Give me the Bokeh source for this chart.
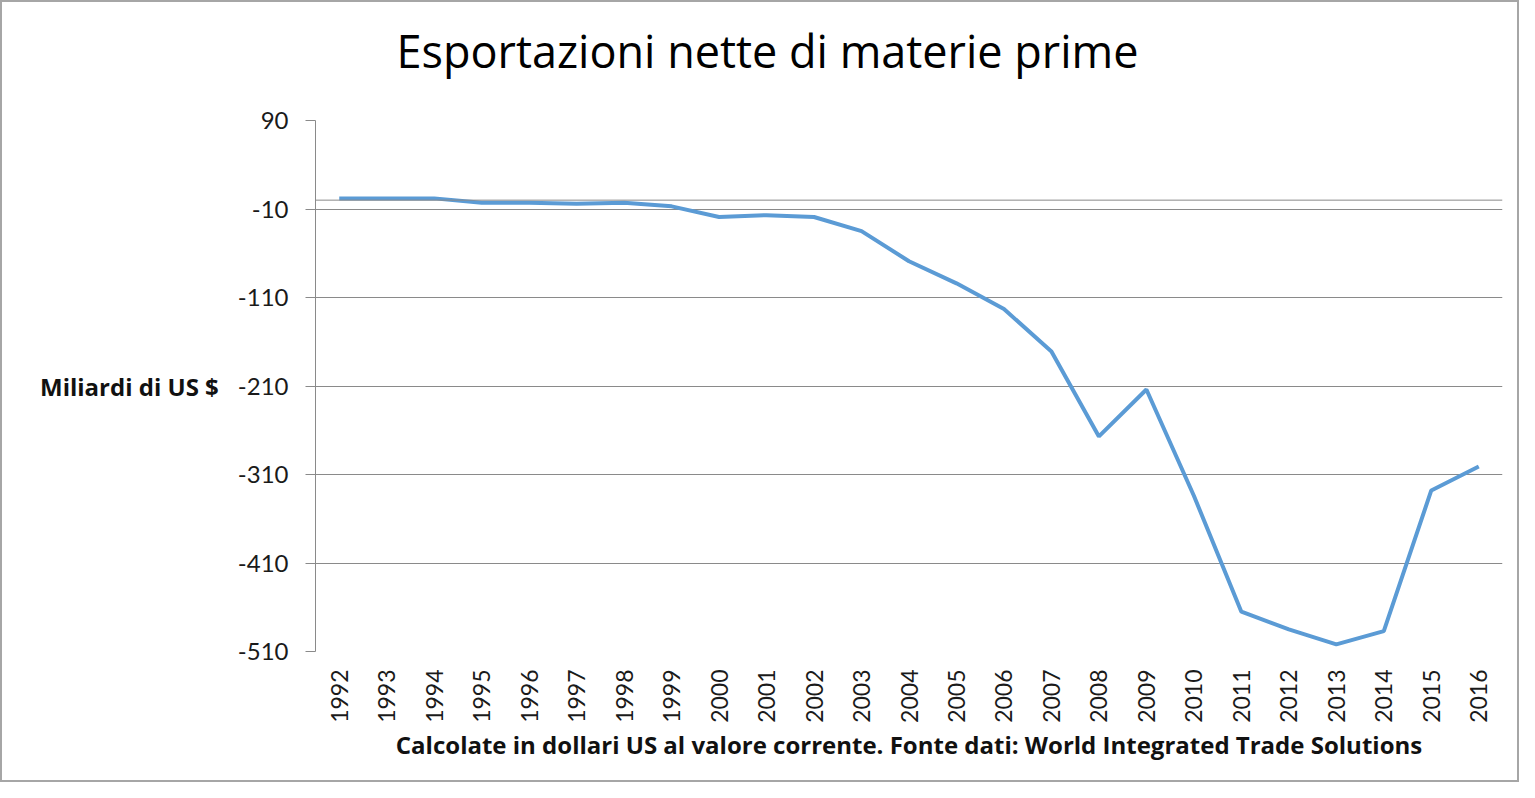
import math
from bokeh.plotting import figure
from bokeh.models import FactorRange, Range1d, FixedTicker, Span, Title, PrintfTickFormatter
from bokeh.embed import file_html
from bokeh.resources import INLINE

years = [str(y) for y in range(1992, 2017)]
values = [2, 2, 2, -3, -3, -4, -3, -7, -19, -17, -19, -35, -69, -94, -123,
          -171, -267, -214, -334, -465, -485, -502, -487, -328, -301]
y_ticks = [90, -10, -110, -210, -310, -410, -510]

title_text = "Esportazioni nette di materie prime"
y_title = "Miliardi di US $"
x_title = "Calcolate in dollari US al valore corrente. Fonte dati: World Integrated Trade Solutions"

FONT = "Lato"
BOLD_FONT = "Open Sans"
W, H = 1519, 782
LEFT, TOP, BOTTOM, RIGHT = 313, 118, 133, 19

p = figure(width=W, height=H, x_range=FactorRange(*years), y_range=Range1d(-510, 90),
           output_backend="svg", toolbar_location=None,
           min_border_left=LEFT, min_border_right=RIGHT, min_border_top=TOP, min_border_bottom=BOTTOM)
p.styles = {"border": "2px solid #a6a6a6"}
p.outline_line_color = None
p.background_fill_color = "white"
p.border_fill_color = "white"

p.xgrid.grid_line_color = None
p.ygrid.grid_line_color = "#8a8a8a"
p.ygrid.grid_line_width = 1

p.yaxis.ticker = FixedTicker(ticks=y_ticks)
p.yaxis.formatter = PrintfTickFormatter(format="%d")
p.yaxis.axis_line_color = "#8a8a8a"
p.yaxis.major_tick_line_color = "#8a8a8a"
p.yaxis.major_tick_out = 10
p.yaxis.major_tick_in = 0
p.yaxis.minor_tick_line_color = None
p.yaxis.major_label_standoff = 17
p.yaxis.major_label_text_font = FONT
p.yaxis.major_label_text_font_size = "24px"
p.yaxis.major_label_text_color = "#1a1a1a"
p.yaxis.axis_label = y_title
p.yaxis.axis_label_orientation = "horizontal"
p.yaxis.axis_label_standoff = 16
p.yaxis.axis_label_text_font = BOLD_FONT
p.yaxis.axis_label_text_font_style = "bold"
p.yaxis.axis_label_text_font_size = "24px"
p.yaxis.axis_label_text_color = "#111111"

p.xaxis.axis_line_color = None
p.xaxis.major_tick_line_color = None
p.xaxis.minor_tick_line_color = None
p.xaxis.major_label_orientation = math.pi / 2
p.xaxis.major_label_standoff = 12
p.xaxis.major_label_text_font = FONT
p.xaxis.major_label_text_font_size = "23px"
p.xaxis.major_label_text_color = "#1a1a1a"
p.xaxis.axis_label = x_title
p.xaxis.axis_label_text_font = BOLD_FONT
p.xaxis.axis_label_text_font_style = "bold"
p.xaxis.axis_label_text_font_size = "24px"
p.xaxis.axis_label_text_color = "#111111"
p.xaxis.axis_label_standoff = 2

p.add_layout(Span(location=0, dimension="width", line_color="#8a8a8a", line_width=1))

p.line(years, values, line_color="#5B9BD5", line_width=4)

# spacer between frame and title
p.add_layout(Title(text=" ", text_font_size="10px", standoff=11), "above")
p.title.text = title_text
p.title.align = "left"
p.title.offset = 81
p.title.vertical_align = "middle"
p.title.standoff = 29
p.title.text_font = "Open Sans"
p.title.text_font_size = "45px"
p.title.text_font_style = "normal"
p.title.text_color = "#000000"

open("out.html", "w").write(file_html(p, INLINE))
